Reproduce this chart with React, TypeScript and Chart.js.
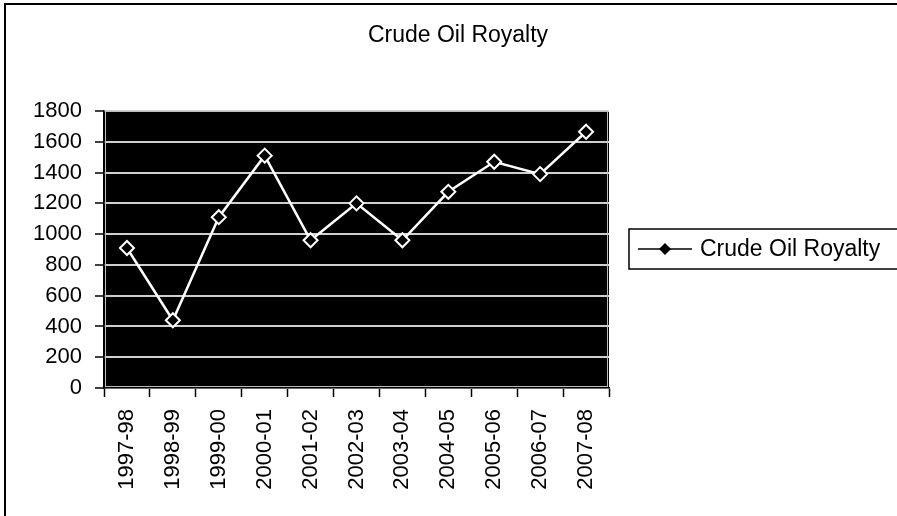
import React, { useEffect, useRef } from "react";
import { Chart, registerables } from "chart.js";

Chart.register(...registerables);

const TITLE = "Crude Oil Royalty";
const SERIES_LABEL = "Crude Oil Royalty";
const categories = [
  "1997-98", "1998-99", "1999-00", "2000-01", "2001-02", "2002-03",
  "2003-04", "2004-05", "2005-06", "2006-07", "2007-08",
];
const royalty = [910, 440, 1110, 1510, 960, 1200, 960, 1275, 1470, 1390, 1665];
const yMin = 0;
const yMax = 1800;
const yStep = 200;

const FONT = "'Liberation Sans', Arial, sans-serif";

const decorPlugin = {
  id: "decor",
  beforeDraw(chart: any) {
    const { ctx, chartArea } = chart;
    ctx.save();
    ctx.fillStyle = "#ffffff";
    ctx.fillRect(0, 0, chart.width, chart.height);
    ctx.strokeStyle = "#000";
    ctx.lineWidth = 2;
    ctx.strokeRect(5, 4, chart.width + 10, chart.height + 10);
    ctx.fillStyle = "#000";
    ctx.fillRect(chartArea.left, chartArea.top, chartArea.right - chartArea.left, chartArea.bottom - chartArea.top);
    ctx.restore();
  },
  afterDraw(chart: any) {
    const { ctx, chartArea } = chart;
    ctx.save();
    ctx.strokeStyle = "#bbbbbb";
    ctx.lineWidth = 1;
    ctx.strokeRect(chartArea.left + 1.5, chartArea.top + 0.5, chartArea.right - chartArea.left - 3, chartArea.bottom - chartArea.top - 2);
    ctx.fillStyle = "#000";
    ctx.font = `23px ${FONT}`;
    ctx.textAlign = "center";
    ctx.textBaseline = "middle";
    ctx.fillText(TITLE, 458, 36);
    const bx = 629, by = 229, bh = 40;
    ctx.fillStyle = "#fff";
    ctx.fillRect(bx, by, chart.width - bx + 10, bh);
    ctx.strokeStyle = "#000";
    ctx.lineWidth = 1.5;
    ctx.strokeRect(bx, by, chart.width - bx + 10, bh);
    const ly = by + bh / 2;
    ctx.beginPath();
    ctx.moveTo(638, ly);
    ctx.lineTo(692, ly);
    ctx.lineWidth = 1.5;
    ctx.stroke();
    ctx.beginPath();
    const cx = 665, r = 6;
    ctx.moveTo(cx, ly - r);
    ctx.lineTo(cx + r, ly);
    ctx.lineTo(cx, ly + r);
    ctx.lineTo(cx - r, ly);
    ctx.closePath();
    ctx.fillStyle = "#000";
    ctx.fill();
    ctx.font = `23px ${FONT}`;
    ctx.textAlign = "left";
    ctx.textBaseline = "middle";
    ctx.fillText(chart.data.datasets[0].label, 700, ly + 1);
    ctx.restore();
  },
};

export default function App() {
  const ref = useRef<HTMLCanvasElement | null>(null);
  useEffect(() => {
    if (!ref.current) return;
    const chart = new Chart(ref.current, {
      type: "line",
      data: {
        labels: categories,
        datasets: [
          {
            label: SERIES_LABEL,
            data: royalty,
            borderColor: "#ffffff",
            borderWidth: 2.5,
            tension: 0,
            pointStyle: "rectRot",
            pointRadius: 7,
            pointBackgroundColor: "#000000",
            pointBorderColor: "#ffffff",
            pointBorderWidth: 2,
          },
        ],
      },
      options: {
        animation: false,
        responsive: false,
        maintainAspectRatio: false,
        layout: { padding: { left: 0, top: 111, right: 288, bottom: 0 } },
        plugins: {
          legend: { display: false },
          title: { display: false },
          tooltip: { enabled: false },
        },
        scales: {
          x: {
            offset: true,
            grid: {
              offset: true,
              drawOnChartArea: false,
              drawTicks: true,
              tickLength: 9,
              tickColor: "#000",
              tickWidth: 1.5,
            },
            border: { display: true, color: "#000", width: 1.5 },
            ticks: {
              color: "#000",
              font: { family: FONT, size: 22 },
              minRotation: 90,
              maxRotation: 90,
              padding: 12,
              autoSkip: false,
            },
            afterFit(scale: any) {
              scale.height = 128;
            },
          },
          y: {
            min: yMin,
            max: yMax,
            grid: {
              color: "#cfcfcf",
              lineWidth: 2,
              tickLength: 9,
              tickColor: "#000",
              tickWidth: 1.5,
            },
            border: { display: true, color: "#000", width: 1.5 },
            ticks: {
              stepSize: yStep,
              color: "#000",
              font: { family: FONT, size: 22 },
              padding: 13,
              callback: (v: any) => String(v),
            },
            afterFit(scale: any) {
              scale.width = 104;
            },
          },
        },
      },
      plugins: [decorPlugin],
    });
    return () => chart.destroy();
  }, []);
  return (
    <div style={{ position: "fixed", left: 0, top: 0, width: 897, height: 516 }}>
      <canvas ref={ref} width={897} height={516} style={{ display: "block" }} />
    </div>
  );
}
